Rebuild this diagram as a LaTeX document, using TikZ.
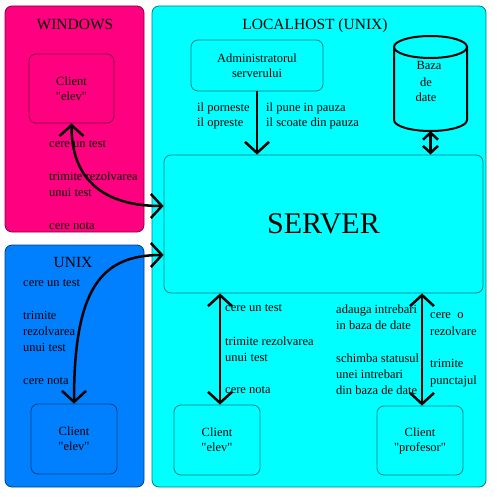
\documentclass[tikz,border=0pt]{standalone}
\usepackage{fontspec}
\setmainfont{Liberation Serif}
\usetikzlibrary{arrows.meta}
\definecolor{pinkf}{HTML}{FF0080}
\definecolor{pinkd}{HTML}{80003F}
\definecolor{bluef}{HTML}{0080FF}
\definecolor{blued}{HTML}{003F80}
\definecolor{cyanf}{HTML}{00FFFF}
\definecolor{cyand}{HTML}{007F80}
\newcommand\qq{\textquotedbl}
\begin{document}
\begin{tikzpicture}[x=1pt,y=-1pt,
  region/.style={rounded corners=7pt, line width=0.8pt, inner sep=0pt},
  box/.style={rounded corners=7pt, line width=0.8pt, align=center, inner sep=0pt, font=\fontsize{12.5}{15}\selectfont},
  lbl/.style={anchor=base west, inner sep=0pt, font=\fontsize{12.5}{15}\selectfont},
  ttl/.style={anchor=base, inner sep=0pt, font=\fontsize{15.5}{18}\selectfont},
  conn/.style={line width=2.5pt, {Straight Barb[length=11pt,width=24pt]}-{Straight Barb[length=11pt,width=24pt]}},
  shortconn/.style={line width=2.5pt, {Straight Barb[length=7pt,width=15pt]}-{Straight Barb[length=7pt,width=15pt]}},
  oneway/.style={line width=2.5pt, -{Straight Barb[length=11pt,width=24pt]}}]
\useasboundingbox (0,0) rectangle (497,497);
\fill[white] (0,0) rectangle (497,497);
% regions
\node[region, draw=pinkd, fill=pinkf, minimum width=139pt, minimum height=226pt] (win) at (74.5,119) {};
\node[region, draw=blued, fill=bluef, minimum width=139pt, minimum height=242pt] (unx) at (74.5,366) {};
\node[region, draw=cyand, fill=cyanf, minimum width=334pt, minimum height=481pt] (loc) at (319,246.5) {};
% titles
\node[ttl] (twin) at (75,30) {WINDOWS};
\node[ttl] (tloc) at (315,30) {LOCALHOST (UNIX)};
\node[ttl] (tunx) at (73,267) {UNIX};
% boxes
\node[box, draw=pinkd, fill=pinkf, minimum width=85pt, minimum height=69pt] (cw) at (71.5,88.5) {Client\\\qq elev\qq};
\node[box, draw=blued, fill=bluef, minimum width=86pt, minimum height=70pt] (cu) at (74,439) {Client\\\qq elev\qq};
\node[box, draw=cyand, fill=cyanf, minimum width=86pt, minimum height=70pt] (ce) at (217,440) {Client\\\qq elev\qq};
\node[box, draw=cyand, fill=cyanf, minimum width=86pt, minimum height=69pt] (cp) at (420,440.5) {Client\\\qq profesor\qq};
\node[box, draw=cyand, fill=cyanf, minimum width=132pt, minimum height=51pt] (adm) at (257,65.5) {Administratorul\\serverului};
\node[box, draw=cyand, fill=cyanf, minimum width=319pt, minimum height=138pt, font=\fontsize{30}{36}\selectfont] (srv) at (323.5,224) {SERVER};
% database
\draw[line width=2pt] (394,47) -- (394,120) arc[start angle=180, end angle=0, x radius=36.5, y radius=11] -- (467,47);
\draw[line width=2pt] (430.5,47) ellipse [x radius=36.5, y radius=11];
\coordinate (dbb) at (430.5,131);
\node[lbl, anchor=base] (db1) at (429,70) {Baza};
\node[lbl, anchor=base] (db2) at (426,87) {de};
\node[lbl, anchor=base] (db3) at (426,102) {date};
% connectors
\draw[conn] (cw.south) .. controls (71.5,185) and (110,206) .. ([yshift=18pt]srv.west);
\draw[conn] ([yshift=-31pt]srv.west) .. controls (100,255) and (74,290) .. (cu.north);
\draw[oneway] (adm.south) -- (adm.south |- srv.north);
\draw[shortconn] (dbb) -- (dbb |- srv.north);
\draw[conn] ([xshift=3pt]srv.south -| ce.north) -- ([xshift=3pt]ce.north);
\draw[conn] ([xshift=2pt]srv.south -| cp.north) -- ([xshift=2pt]cp.north);
% labels windows
\node[lbl] (w1) at (49,147) {cere un test};
\node[lbl] (w2) at (49,180) {trimite rezolvarea};
\node[lbl] (w3) at (49,196) {unui test};
\node[lbl] (w4) at (49,229) {cere nota};
% labels admin
\node[lbl] (a1) at (197,112) {il porneste};
\node[lbl] (a2) at (197,127) {il opreste};
\node[lbl] (a3) at (266,112) {il pune in pauza};
\node[lbl] (a4) at (266,127) {il scoate din pauza};
% labels unix
\node[lbl] (u1) at (23,286) {cere un test};
\node[lbl] (u2) at (23,319) {trimite};
\node[lbl] (u3) at (23,335) {rezolvarea};
\node[lbl] (u4) at (23,351) {unui test};
\node[lbl] (u5) at (23,384) {cere nota};
% labels bottom centre
\node[lbl] (e1) at (225,311) {cere un test};
\node[lbl] (e2) at (225,345) {trimite rezolvarea};
\node[lbl] (e3) at (225,361) {unui test};
\node[lbl] (e4) at (225,393) {cere nota};
% labels professor
\node[lbl] (p1) at (336,313) {adauga intrebari};
\node[lbl] (p2) at (336,329) {in baza de date};
\node[lbl] (p3) at (336,362) {schimba statusul};
\node[lbl] (p4) at (336,378) {unei intrebari};
\node[lbl] (p5) at (336,394) {din baza de date};
\node[lbl] (r1) at (430,318) {cere\ \ o};
\node[lbl] (r2) at (430,335) {rezolvare};
\node[lbl] (r3) at (430,367) {trimite};
\node[lbl] (r4) at (430,384) {punctajul};
\end{tikzpicture}
\end{document}
